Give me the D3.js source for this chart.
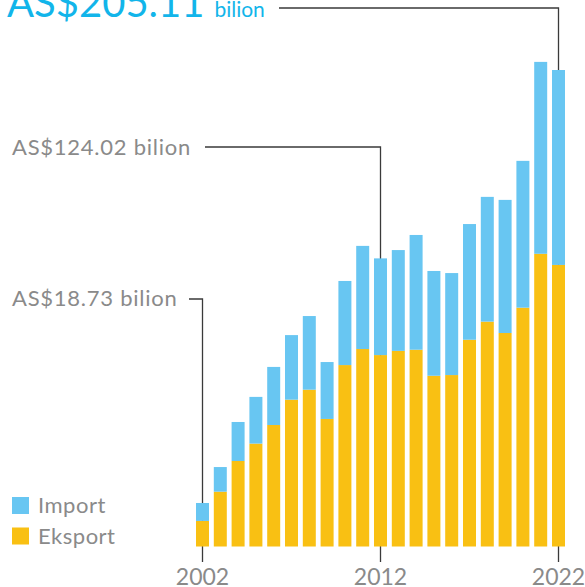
<!DOCTYPE html>
<html>
<head>
<meta charset="utf-8">
<script src="https://cdn.jsdelivr.net/npm/d3@7"></script>
<style>
  html, body { margin: 0; padding: 0; background: #fff; }
  svg { display: block; font-family: Lato, "Noto Sans", sans-serif; }
</style>
</head>
<body>
<svg id="chart" width="585" height="587"></svg>
<script>
// data, AS$ billion
var years = d3.range(2002, 2023);
var eksport = [11.0, 23.6, 36.8, 44.3, 52.3, 63.2, 67.5, 54.9, 78.1, 85.0, 82.4,
  84.2, 84.7, 73.5, 73.8, 89.0, 96.8, 91.9, 102.8, 126.0, 121.2];
var impor = [7.73, 10.6, 16.8, 20.1, 25.0, 27.8, 31.7, 24.5, 36.2, 44.4, 41.62,
  43.4, 49.4, 45.1, 43.9, 49.8, 53.7, 57.3, 63.2, 82.6, 83.91];
var tickYears = [2002, 2012, 2022];
var callouts = [
  { year: 2002, label: 'AS$18.73 bilion' },
  { year: 2012, label: 'AS$124.02 bilion' },
  { year: 2022, label: 'AS$205.11', unit: 'bilion' }
];
var seriesNames = ['Import', 'Eksport'];

var colors = { Import: '#68c6f2', Eksport: '#f9c013' };
var grey = '#8a8a8a', cyan = '#12b5ea', lineColor = '#3a3a3a';

var svg = d3.select('#chart');

var x = d3.scaleBand()
  .domain(years)
  .range([193.6, 567.4])
  .paddingInner(0.27)
  .paddingOuter(0.135);

var y = d3.scaleLinear()
  .domain([0, 205.11])
  .range([546.5, 70]);

var rows = years.map(function(yr, i) {
  return { year: yr, Eksport: eksport[i], Import: impor[i] };
});
var stack = d3.stack().keys(['Eksport', 'Import'])(rows);

var cx = function(yr) { return x(yr) + x.bandwidth() / 2; };
var tickBottom = 562;

// callout lines (behind bars), they run down into the ticks
var lineY = { 2002: 299, 2012: 147, 2022: 8 };
var lineX0 = { 2002: 189, 2012: 205, 2022: 279 };

var gLines = svg.append('g')
  .attr('fill', 'none')
  .attr('stroke', lineColor)
  .attr('stroke-width', 1.3);

callouts.forEach(function(c) {
  gLines.append('path')
    .attr('d', 'M' + lineX0[c.year] + ',' + lineY[c.year] +
      'H' + cx(c.year) + 'V' + tickBottom);
});

// bars
svg.append('g').selectAll('g')
  .data(stack)
  .join('g')
    .attr('fill', function(d) { return colors[d.key]; })
  .selectAll('rect')
  .data(function(d) { return d; })
  .join('rect')
    .attr('x', function(d) { return x(d.data.year); })
    .attr('width', x.bandwidth())
    .attr('y', function(d) { return y(d[1]); })
    .attr('height', function(d) { return y(d[0]) - y(d[1]); });

// year labels
svg.append('g').selectAll('text')
  .data(tickYears)
  .join('text')
    .attr('x', cx)
    .attr('y', 585)
    .attr('text-anchor', 'middle')
    .attr('fill', grey)
    .attr('font-size', 23)
    .text(function(d) { return d; });

// callout labels
svg.append('text')
  .attr('x', 12).attr('y', 306)
  .attr('fill', grey).attr('font-size', 22)
  .attr('letter-spacing', 0.75)
  .text(callouts[0].label);

svg.append('text')
  .attr('x', 12).attr('y', 155)
  .attr('fill', grey).attr('font-size', 22)
  .attr('letter-spacing', 0.75)
  .text(callouts[1].label);

var big = svg.append('text')
  .attr('x', 7).attr('y', 17)
  .attr('fill', cyan);
big.append('tspan').attr('font-size', 40).text(callouts[2].label);
big.append('tspan').attr('font-size', 21).attr('dx', 10).text(callouts[2].unit);

// legend
var legend = svg.append('g').selectAll('g')
  .data(seriesNames)
  .join('g')
    .attr('transform', function(d, i) { return 'translate(12,' + (497 + i * 30.5) + ')'; });

legend.append('rect')
  .attr('width', 17).attr('height', 17)
  .attr('fill', function(d) { return colors[d]; });

legend.append('text')
  .attr('x', 26).attr('y', 16)
  .attr('fill', grey).attr('font-size', 22)
  .attr('letter-spacing', 0.5)
  .text(function(d) { return d; });
</script>
</body>
</html>
